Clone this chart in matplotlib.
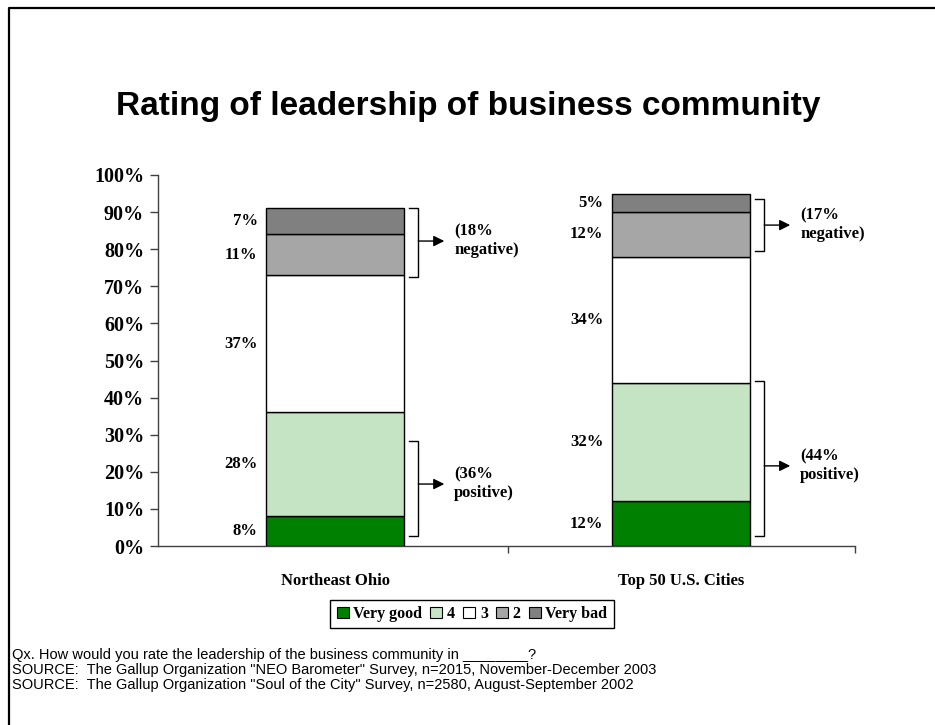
import matplotlib
matplotlib.use("Agg")
import matplotlib.pyplot as plt
from matplotlib.lines import Line2D
from matplotlib.patches import Patch

# Survey results (percent of respondents)
categories = ["Northeast Ohio", "Top 50 U.S. Cities"]
series_names = ["Very good", "4", "3", "2", "Very bad"]
very_good = [8, 12]
four = [28, 32]
three = [37, 34]
two = [11, 12]
very_bad = [7, 5]
series_values = [very_good, four, three, two, very_bad]
ytick_labels = ["0%", "10%", "20%", "30%", "40%", "50%", "60%", "70%", "80%", "90%", "100%"]

colors = ["#008000", "#c4e4c4", "#ffffff", "#a6a6a6", "#808080"]

serif = ["Liberation Serif", "DejaVu Serif"]
sans = ["Liberation Sans", "DejaVu Sans"]

fig = plt.figure(figsize=(9.35, 7.25), dpi=100)
ax = fig.add_axes([158 / 935, 1 - 546 / 725, (855 - 158) / 935, (546 - 175) / 725])

x = [0, 1]
bar_w = 0.4
x_lo, x_hi = -0.512, 1.503
px = 697 / (x_hi - x_lo)  # pixels per category unit

bottoms = [0, 0]
for vals, col in zip(series_values, colors):
    ax.bar(x, vals, width=bar_w, bottom=bottoms, color=col,
           edgecolor="black", linewidth=1.0, zorder=3)
    for i, v in enumerate(vals):
        ax.annotate(f"{v}%", xy=(x[i] - bar_w / 2, bottoms[i] + v / 2),
                    xytext=(-6, 0), textcoords="offset points",
                    ha="right", va="center", fontsize=12,
                    fontweight="bold", family=serif)
    bottoms = [b + v for b, v in zip(bottoms, vals)]

ax.set_xlim(x_lo, x_hi)
ax.set_ylim(0, 100)
ax.set_yticks(range(0, 101, 10))
ax.set_yticklabels(ytick_labels, fontsize=14.5, fontweight="bold", family=serif)
ax.set_xticks([0.5, x_hi])
ax.set_xticklabels([])
ax.tick_params(axis="y", direction="out", length=6, width=1, color="#404040", pad=4)
ax.tick_params(axis="x", direction="out", length=5, width=1, color="#404040")
for s in ("top", "right"):
    ax.spines[s].set_visible(False)
for s in ("left", "bottom"):
    ax.spines[s].set_color("#404040")
    ax.spines[s].set_linewidth(1)

for i, name in enumerate(categories):
    ax.annotate(name, xy=(x[i], 0), xytext=(0, -25), textcoords="offset points",
                ha="center", va="center", fontsize=12, fontweight="bold",
                family=serif)

# Brackets summarising positive / negative ratings
positive = [very_good[i] + four[i] for i in range(2)]
negative = [two[i] + very_bad[i] for i in range(2)]
brackets = [
    # (category, low, high, arrow level, label)
    (0, 72.6, 91.2, 82.2, f"({negative[0]}%\nnegative)"),
    (0, 2.7, 28.3, 16.7, f"({positive[0]}%\npositive)"),
    (1, 79.5, 93.5, 86.5, f"({negative[1]}%\nnegative)"),
    (1, 2.7, 44.5, 21.6, f"({positive[1]}%\npositive)"),
]
for cat, lo, hi, mid, label in brackets:
    xb = x[cat] + bar_w / 2 + 14 / px
    xt = xb - 9 / px
    ax.plot([xt, xb, xb, xt], [hi, hi, lo, lo], color="black", lw=1.0,
            solid_joinstyle="miter", zorder=4)
    ax.annotate("", xy=(xb + 26 / px, mid), xytext=(xb, mid),
                arrowprops=dict(arrowstyle="-|>", color="black", lw=1.0,
                                mutation_scale=16, shrinkA=0, shrinkB=0))
    ax.text(xb + 36 / px, mid, label, ha="left", va="center", fontsize=12,
            fontweight="bold", family=serif, linespacing=1.2)

fig.text(468 / 935, 1 - 107 / 725, "Rating of leadership of business community",
         ha="center", va="center", fontsize=24, fontweight="bold", family=sans)

handles = [Patch(facecolor=c, edgecolor="black", linewidth=0.8) for c in colors]
leg = fig.legend(handles, series_names, loc="center",
                 bbox_to_anchor=(472 / 935, 1 - 614 / 725), ncol=5,
                 prop={"family": serif, "weight": "bold", "size": 11.5},
                 handlelength=0.75, handleheight=0.75, handletextpad=0.3,
                 columnspacing=0.5, borderpad=0.4, fancybox=False,
                 framealpha=1, edgecolor="black")
leg.get_frame().set_linewidth(1.0)

footer = [
    "Qx. How would you rate the leadership of the business community in ________?",
    "SOURCE:  The Gallup Organization \"NEO Barometer\" Survey, n=2015, November-December 2003",
    "SOURCE:  The Gallup Organization \"Soul of the City\" Survey, n=2580, August-September 2002",
]
for k, line in enumerate(footer):
    fig.text(12 / 935, 1 - (655 + 15 * k) / 725, line, ha="left", va="center",
             fontsize=10.5, family=sans)

# Slide frame (top and left edges)
fig.add_artist(Line2D([9 / 935, 9 / 935, 1.0], [0.0, 1 - 8 / 725, 1 - 8 / 725],
                      transform=fig.transFigure, color="black", lw=1.6))

fig.savefig("out.png", dpi=100, facecolor="white")
